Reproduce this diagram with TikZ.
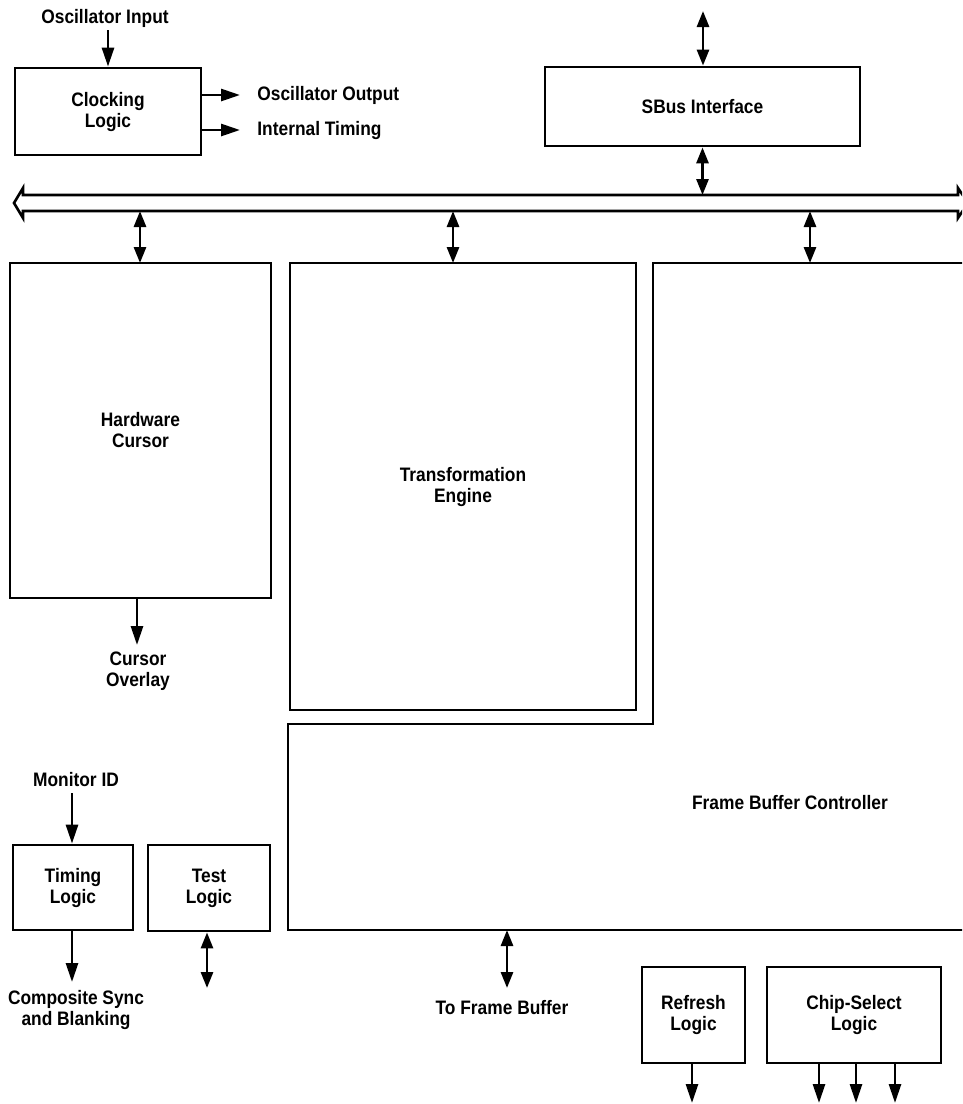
\documentclass[tikz,border=0pt]{standalone}
\usepackage{fontspec}
\setmainfont{Liberation Sans}[FakeStretch=0.89]
\usetikzlibrary{arrows.meta}
\begin{document}
\begin{tikzpicture}[x=1pt,y=-1pt,
  font=\fontsize{19.5}{21}\selectfont\bfseries,
  line width=2.8pt,
  blk/.style={draw, line width=2.8pt, inner sep=0pt, align=center},
  lbl/.style={inner sep=0pt, align=center},
  arr/.style={-{Triangle[length=19pt,width=12pt]}, line width=2.8pt},
  darr/.style={{Triangle[length=16pt,width=12pt]}-{Triangle[length=16pt,width=12pt]}, line width=2.8pt}]

\useasboundingbox (0,0) rectangle (962,1104);
\clip (0,0) rectangle (962,1104);

% ---- blocks ----
\node[blk, minimum width=186pt, minimum height=87pt] (clock) at (108,111.5) {Clocking\\Logic};
\node[blk, minimum width=315pt, minimum height=79pt] (sbus) at (702.5,106.5) {SBus Interface};
\node[blk, minimum width=261pt, minimum height=335pt] (hwc) at (140.5,430.5) {Hardware\\Cursor};
\node[blk, minimum width=346pt, minimum height=447pt] (te) at (463,486.5) {Transformation\\Engine};
\node[blk, minimum width=120pt, minimum height=85pt] (timing) at (73,887.5) {Timing\\Logic};
\node[blk, minimum width=122pt, minimum height=86pt] (test) at (209,888) {Test\\Logic};
\node[blk, minimum width=103pt, minimum height=96pt] (refresh) at (693.5,1015) {Refresh\\Logic};
\node[blk, minimum width=174pt, minimum height=96pt] (chip) at (854,1015) {Chip-Select\\Logic};

% frame buffer controller: L-shaped block running past the right edge
\draw[line width=2.8pt, line join=miter] (990,263) -- (653,263) -- (653,724) -- (288,724) -- (288,930) -- (990,930);
\node[lbl] (fbc) at (790,803) {Frame Buffer Controller};

% internal bus, hollow double-headed arrow
\draw[line width=2.6pt, line join=miter]
  (23,195) -- (958,195) -- (958,188) -- (968,203) -- (958,218) -- (958,211)
  -- (23,211) -- (23,218) -- (14,203) -- (23,188) -- cycle;
\coordinate (busT) at (0,195);
\coordinate (busB) at (0,211);

% ---- labels ----
\node[lbl] (oscin) at (105,18) {Oscillator Input};
\node[lbl, anchor=west] (oscout) at (256,95) {Oscillator Output};
\node[lbl, anchor=west] (inttim) at (256,130) {Internal Timing};
\node[lbl] (curov) at (138,671) {Cursor\\Overlay};
\node[lbl] (monid) at (76,780) {Monitor ID};
\node[lbl] (csync) at (76,1010) {Composite Sync\\and Blanking};
\node[lbl] (tofbl) at (502,1008) {To Frame Buffer};

% ---- connector end points ----
\coordinate (oscinE) at (108,30);
\coordinate (ooE) at (240,95);
\coordinate (itE) at (240,130);
\coordinate (sbTop) at (703,11);
\coordinate (hwcIn) at (140,263);
\coordinate (teIn) at (453,263);
\coordinate (fbcIn) at (810,263);
\coordinate (coE) at (137,645);
\coordinate (monE) at (72,793);
\coordinate (csE) at (72,982);
\coordinate (tstE) at (207,988);
\coordinate (fbOut) at (507,930);
\coordinate (fbE) at (507,988);
\coordinate (rfE) at (692,1103);
\coordinate (cs1) at (819,1103);
\coordinate (cs2) at (856,1103);
\coordinate (cs3) at (895,1103);

% ---- connectors ----
\draw[arr] (oscinE) -- (clock.north);
\draw[arr] (clock.east |- ooE) -- (ooE);
\draw[arr] (clock.east |- itE) -- (itE);
\draw[darr] (sbTop) -- (sbus.north -| sbTop);
\draw[darr] (sbus.south) -- (sbus.south |- busT);
\draw[darr] (hwcIn |- busB) -- (hwcIn);
\draw[darr] (teIn |- busB) -- (teIn);
\draw[darr] (fbcIn |- busB) -- (fbcIn);
\draw[arr] (hwc.south -| coE) -- (coE);
\draw[arr] (monE) -- (timing.north -| monE);
\draw[arr] (timing.south -| csE) -- (csE);
\draw[darr] (test.south -| tstE) -- (tstE);
\draw[darr] (fbOut) -- (fbE);
\draw[arr] (refresh.south -| rfE) -- (rfE);
\draw[arr] (chip.south -| cs1) -- (cs1);
\draw[arr] (chip.south -| cs2) -- (cs2);
\draw[arr] (chip.south -| cs3) -- (cs3);

\end{tikzpicture}
\end{document}
